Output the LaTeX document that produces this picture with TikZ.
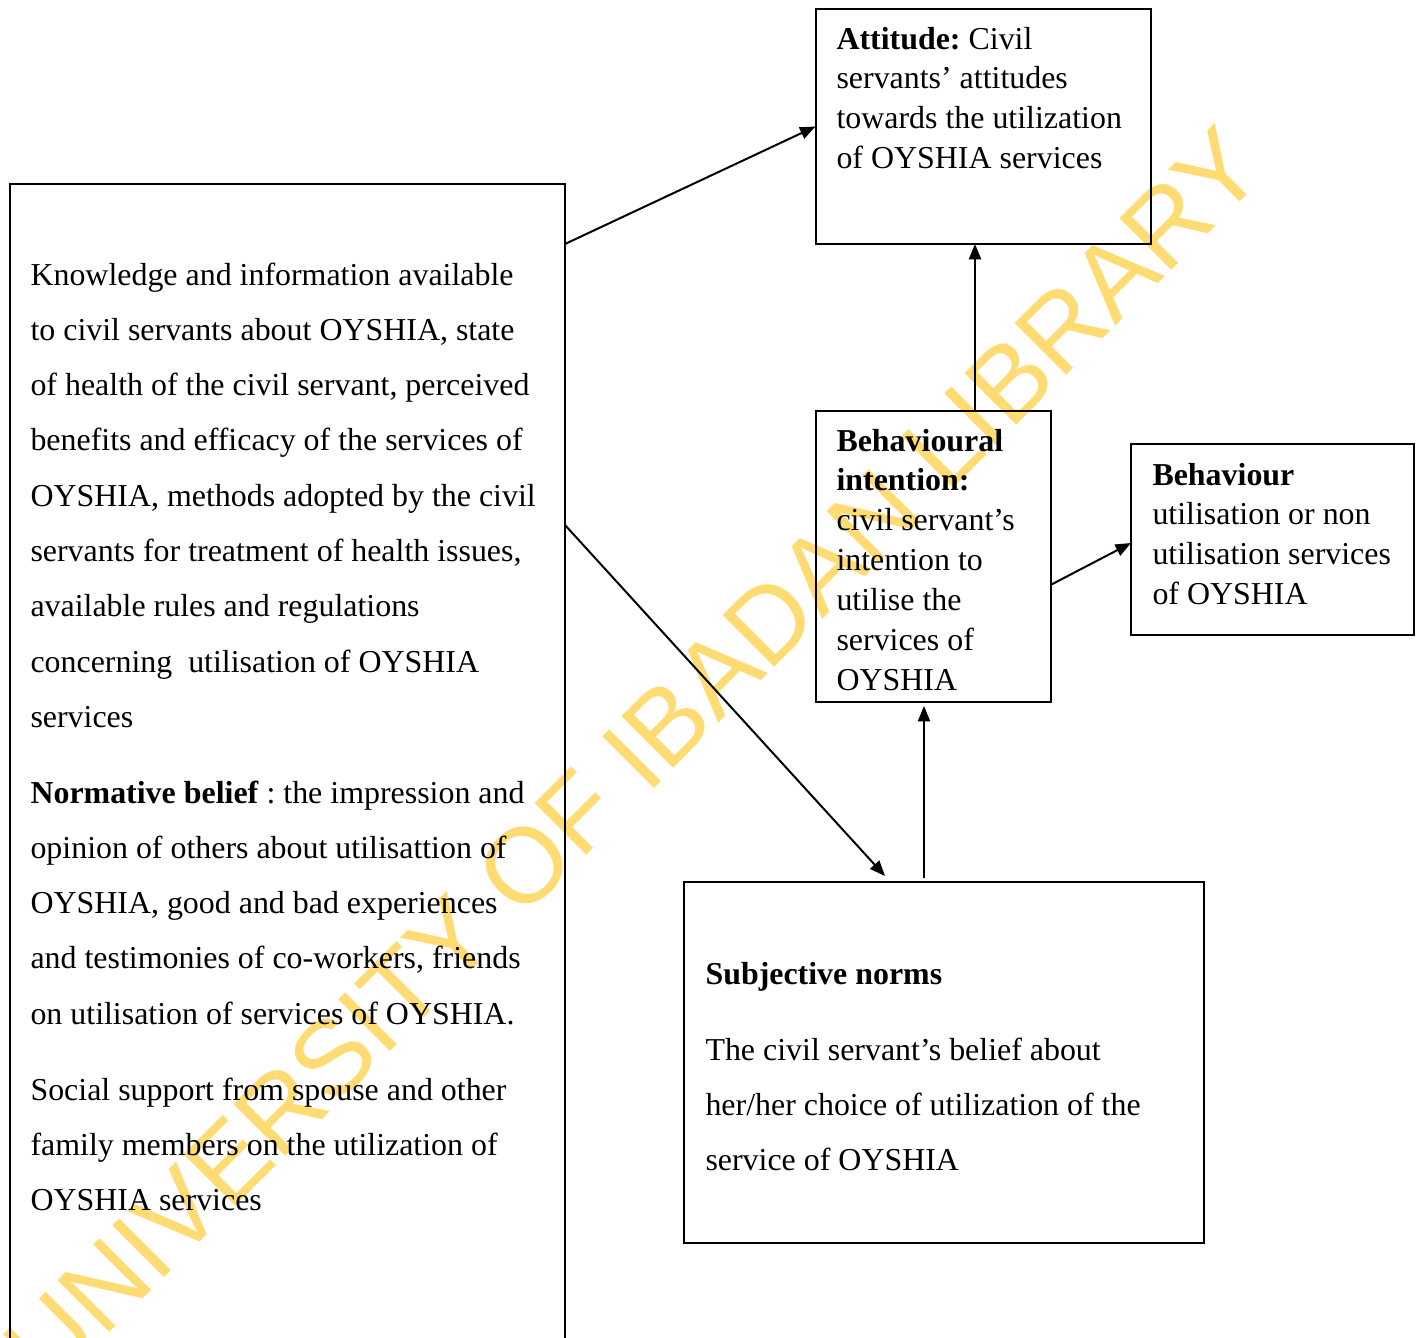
\documentclass[tikz,border=0pt]{standalone}
\usepackage{fontspec}
\setmainfont{Liberation Serif}
\newfontfamily\wmfont{Liberation Sans}
\usetikzlibrary{arrows.meta,calc}
\definecolor{wmyellow}{RGB}{255,220,115}
\newcommand{\natsp}{\spaceskip=0pt\xspaceskip=0pt\frenchspacing\relax}
\begin{document}
\begin{tikzpicture}[x=0.376pt,y=-0.376pt,
  box/.style={draw,line width=0.75pt,inner sep=0pt,outer sep=0pt,rectangle},
  arr/.style={line width=0.75pt,-{Triangle[length=5.8pt,width=4.6pt]}},
  para/.style={anchor=base west,inner sep=0pt,text width=240pt,align=left,font=\fontsize{12}{20.8}\selectfont},
  tight/.style={anchor=base west,inner sep=0pt,text width=240pt,align=left,font=\fontsize{12}{15}\selectfont}]
\useasboundingbox (0,0) rectangle (1416,1338);
\clip (0,0) rectangle (1416,1338);

% watermark
\node[anchor=base west,inner sep=0pt,rotate=45,text=wmyellow,font=\wmfont\fontsize{40}{40}\selectfont] (wm) at (49,1393) {UNIVERSITY OF IBADAN LIBRARY};

% boxes
\node[box,minimum width={555*0.376pt},minimum height={1216*0.376pt}] (lk) at (287.5,792) {};
\node[box,minimum width={335.5*0.376pt},minimum height={235*0.376pt}] (att) at (983.25,126.5) {};
\node[box,minimum width={235*0.376pt},minimum height={291*0.376pt}] (bi) at (933,556.5) {};
\node[box,minimum width={283*0.376pt},minimum height={191*0.376pt}] (beh) at (1272.5,539.5) {};
\node[box,minimum width={520*0.376pt},minimum height={361*0.376pt}] (sn) at (944,1062.5) {};

% texts
\node[para] (t1) at (30,285) {\natsp Knowledge and information available\\
to civil servants about OYSHIA, state\\
of health of the civil servant, perceived\\
benefits and efficacy of the services of\\
OYSHIA, methods adopted by the civil\\
servants for treatment of health issues,\\
available rules and regulations\\
concerning\ \ utilisation of OYSHIA\\
services};
\node[para] (t2) at (30,803) {\natsp\textbf{Normative belief} : the impression and\\
opinion of others about utilisattion of\\
OYSHIA, good and bad experiences\\
and testimonies of co-workers, friends\\
on utilisation of services of OYSHIA.};
\node[para] (t3) at (30,1100) {\natsp Social support from spouse and other\\
family members on the utilization of\\
OYSHIA services};
\node[tight] (tatt) at (836,49) {\natsp\textbf{Attitude:} Civil\\
servants’ attitudes\\
towards the utilization\\
of OYSHIA services};
\node[tight] (tbi) at (836,451) {\natsp\textbf{Behavioural}\\
\textbf{intention:}\\
civil servant’s\\
intention to\\
utilise the\\
services of\\
OYSHIA};
\node[tight] (tbeh) at (1152,485) {\natsp\textbf{Behaviour}\\
utilisation or non\\
utilisation services\\
of OYSHIA};
\node[para] (tsn1) at (705,984) {\natsp\textbf{Subjective norms}};
\node[para] (tsn2) at (705,1060) {\natsp The civil servant’s belief about\\
her/her choice of utilization of the\\
service of OYSHIA};

% connectors
\draw[arr] ($(lk.north east)+(0,60)$) -- (att.west);
\draw[arr] ($(lk.north east)+(0,341)$) -- ($(sn.north west)+(201,-6)$);
\draw[arr] ($(bi.north)+(42,0)$) -- ($(att.south)+(-8.25,0)$);
\draw[arr] ($(bi.east)+(0,28.5)$) -- ($(beh.west)+(0,3.5)$);
\draw[arr] ($(sn.north)+(-20,-4)$) -- ($(bi.south)+(-9,4)$);
\end{tikzpicture}
\end{document}
